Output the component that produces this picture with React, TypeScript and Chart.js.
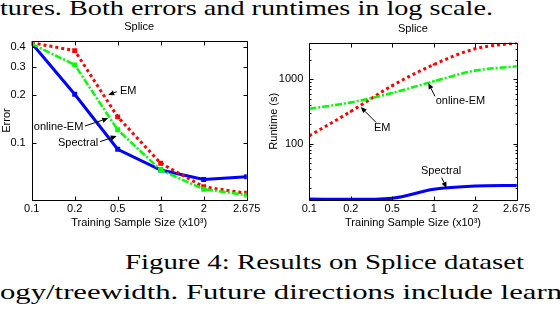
import React, { useEffect, useLayoutEffect, useRef } from "react";
import { Chart, registerables } from "chart.js";
Chart.register(...registerables);

// ---------- data ----------
const categories = ["0.1", "0.2", "0.5", "1", "2", "2.675"];
const errorEM = [0.427, 0.381, 0.146, 0.0745, 0.053, 0.0483];
const errorOnlineEM = [0.42, 0.31, 0.121, 0.0676, 0.0512, 0.047];
const errorSpectral = [0.424, 0.2024, 0.0913, 0.0676, 0.059, 0.0614];
const runtimeEM = [132, 316, 797, 1697, 2985, 3705];
const runtimeOnlineEM = [348, 437, 613, 931, 1367, 1597];
const runtimeSpectral = [13.7, 13.5, 14.1, 19.4, 21.8, 22.3];
const errorTicks = [0.1, 0.2, 0.3, 0.4];
const runtimeTicks = [100, 1000];
const runtimeMinorTicks = [20, 30, 40, 50, 60, 70, 80, 90, 200, 300, 400, 500, 600, 700, 800, 900, 2000, 3000];

type Note = { text: string; head: [number, number]; tail: [number, number]; pos: [number, number]; align: CanvasTextAlign };
const errorNotes: Note[] = [
  { text: "EM", head: [1.78, 0.2004], tail: [1.977, 0.21], pos: [2.053, 0.2125], align: "left" },
  { text: "online-EM", head: [1.78, 0.143], tail: [1.24, 0.128], pos: [1.2, 0.1267], align: "right" },
  { text: "Spectral", head: [1.977, 0.1106], tail: [1.588, 0.1019], pos: [1.549, 0.1004], align: "right" },
];
const runtimeNotes: Note[] = [
  { text: "online-EM", head: [2.87, 878], tail: [3.03, 542], pos: [3.046, 453], align: "left" },
  { text: "EM", head: [1.24, 370], tail: [1.61, 213], pos: [1.757, 174], align: "center" },
  { text: "Spectral", head: [3.31, 20.2], tail: [3.19, 29.4], pos: [3.178, 37.6], align: "center" },
];

const SANS = '"Liberation Sans", Arial, sans-serif';
const RED = "rgb(255,0,0)";
const GREEN = "rgb(0,255,0)";
const BLUE = "rgb(0,0,255)";

function framePlugin(title: string, notes: Note[], minor: number[]) {
  return {
    id: "frame",
    afterDraw(chart: any) {
      const { ctx, chartArea: a, scales } = chart;
      const xs = scales.x;
      const ys = scales.y;
      const L = Math.round(a.left) + 0.5;
      const R = Math.round(a.right) + 0.5;
      const T = Math.round(a.top) + 0.5;
      const B = Math.round(a.bottom) + 0.5;
      ctx.save();
      ctx.strokeStyle = "#000";
      ctx.lineWidth = 1;
      ctx.beginPath();
      ctx.rect(L, T, R - L, B - T);
      const seg = (x1: number, y1: number, x2: number, y2: number) => {
        ctx.moveTo(x1, y1);
        ctx.lineTo(x2, y2);
      };
      for (const t of xs.ticks) {
        const px = Math.round(xs.getPixelForValue(t.value)) + 0.5;
        seg(px, B, px, B - 4);
        seg(px, T, px, T + 4);
      }
      for (const t of ys.ticks) {
        const py = Math.round(ys.getPixelForValue(t.value)) + 0.5;
        seg(L, py, L + 4, py);
        seg(R, py, R - 4, py);
      }
      for (const v of minor) {
        const py = Math.round(ys.getPixelForValue(v)) + 0.5;
        if (py < T || py > B) continue;
        seg(L, py, L + 2, py);
        seg(R, py, R - 2, py);
      }
      ctx.stroke();

      ctx.fillStyle = "#000";
      ctx.font = `11px ${SANS}`;
      ctx.textAlign = "center";
      ctx.textBaseline = "alphabetic";
      ctx.fillText(title, (a.left + a.right) / 2, a.top - 11);

      for (const n of notes) {
        const hx = xs.getPixelForValue(n.head[0]);
        const hy = ys.getPixelForValue(n.head[1]);
        const tx = xs.getPixelForValue(n.tail[0]);
        const ty = ys.getPixelForValue(n.tail[1]);
        const ang = Math.atan2(hy - ty, hx - tx);
        const len = 6;
        const hw = 2.6;
        const bx = hx - len * Math.cos(ang);
        const by = hy - len * Math.sin(ang);
        ctx.beginPath();
        ctx.moveTo(tx, ty);
        ctx.lineTo(bx, by);
        ctx.stroke();
        ctx.beginPath();
        ctx.moveTo(hx, hy);
        ctx.lineTo(bx + hw * Math.sin(ang), by - hw * Math.cos(ang));
        ctx.lineTo(bx - hw * Math.sin(ang), by + hw * Math.cos(ang));
        ctx.closePath();
        ctx.fill();
        ctx.textAlign = n.align;
        ctx.textBaseline = "middle";
        ctx.fillText(n.text, xs.getPixelForValue(n.pos[0]), ys.getPixelForValue(n.pos[1]));
      }
      ctx.restore();
    },
  };
}

function makeConfig(opts: {
  em: number[]; online: number[]; spectral: number[];
  yMin: number; yMax: number; yTicks: number[]; yTitle: string;
  yWidth: number; yTitlePad: number; padTop: number; padRight: number;
  markers: boolean; smooth: boolean; title: string; notes: Note[]; minor: number[];
}) {
  const pts = (arr: number[]) => arr.map((v, i) => ({ x: i, y: v }));
  const ds = (label: string, data: number[], color: string, width: number, dash: number[]) => ({
    label,
    data: pts(data),
    borderColor: color,
    backgroundColor: color,
    borderWidth: width,
    borderDash: dash,
    borderCapStyle: "butt",
    pointStyle: "rect",
    pointRadius: opts.markers ? 3.5 : 1.5,
    pointBorderWidth: 0,
    pointBackgroundColor: color,
    fill: false,
    cubicInterpolationMode: opts.smooth ? "monotone" : "default",
    tension: 0,
  });
  return {
    type: "line",
    data: {
      datasets: [
        ds("online-EM", opts.online, GREEN, 2.5, [7, 2, 2, 2]),
        ds("EM", opts.em, RED, 3, [3, 3]),
        ds("Spectral", opts.spectral, BLUE, 3, []),
      ],
    },
    options: {
      responsive: false,
      animation: false,
      events: [],
      layout: { padding: { left: 0, top: opts.padTop, right: opts.padRight, bottom: 0 } },
      plugins: { legend: { display: false }, tooltip: { enabled: false }, title: { display: false } },
      scales: {
        x: {
          type: "linear",
          min: 0,
          max: 5,
          grid: { display: false, drawTicks: false },
          border: { display: false },
          afterBuildTicks: (s: any) => {
            s.ticks = categories.map((_, i) => ({ value: i }));
          },
          afterFit: (s: any) => {
            s.height = 40;
          },
          ticks: {
            autoSkip: false,
            maxRotation: 0,
            padding: 2,
            color: "#000",
            font: { family: SANS, size: 11 },
            callback: (v: number) => categories[Math.round(v)] ?? "",
          },
          title: {
            display: true,
            text: "Training Sample Size (x10\u00B3)",
            color: "#000",
            font: { family: SANS, size: 11 },
            padding: { top: 0, bottom: 10.5 },
          },
        },
        y: {
          type: "logarithmic",
          min: opts.yMin,
          max: opts.yMax,
          grid: { display: false, drawTicks: false },
          border: { display: false },
          afterBuildTicks: (s: any) => {
            s.ticks = opts.yTicks.map((v) => ({ value: v }));
          },
          afterFit: (s: any) => {
            s.width = opts.yWidth;
          },
          ticks: {
            autoSkip: false,
            padding: 6,
            color: "#000",
            font: { family: SANS, size: 11 },
            callback: (v: number) => String(v),
          },
          title: {
            display: true,
            text: opts.yTitle,
            color: "#000",
            font: { family: SANS, size: 11 },
            padding: { top: opts.yTitlePad, bottom: 0 },
          },
        },
      },
    },
    plugins: [framePlugin(opts.title, opts.notes, opts.minor)],
  } as any;
}

function ChartCanvas({ left, width, config }: { left: number; width: number; config: any }) {
  const ref = useRef<HTMLCanvasElement>(null);
  useEffect(() => {
    const chart = new Chart(ref.current as HTMLCanvasElement, config);
    return () => chart.destroy();
  }, []);
  return (
    <canvas
      ref={ref}
      width={width}
      height={240}
      style={{ position: "absolute", left, top: 0, width, height: 240 }}
    />
  );
}

function FitText({ text, left, top, width }: { text: string; left: number; top: number; width: number }) {
  const ref = useRef<HTMLDivElement>(null);
  useLayoutEffect(() => {
    const el = ref.current as HTMLDivElement;
    const fit = () => {
      el.style.transform = "none";
      const w = el.getBoundingClientRect().width;
      if (w > 0) el.style.transform = `scaleX(${width / w})`;
    };
    fit();
    const f = (document as any).fonts;
    if (f && f.ready) f.ready.then(fit);
  }, [text, width]);
  return (
    <div
      ref={ref}
      style={{
        position: "absolute",
        left,
        top,
        fontFamily: '"Liberation Serif", serif',
        fontSize: 22,
        lineHeight: "22px",
        whiteSpace: "nowrap",
        transformOrigin: "0 0",
        color: "#000",
      }}
    >
      {text}
    </div>
  );
}

export default function App() {
  const leftCfg = makeConfig({
    em: errorEM, online: errorOnlineEM, spectral: errorSpectral,
    yMin: 0.0438, yMax: 0.438, yTicks: errorTicks, yTitle: "Error",
    yWidth: 31.7, yTitlePad: 0.5, padTop: 41, padRight: 264 - 246.7,
    markers: true, smooth: false, title: "Splice", notes: errorNotes, minor: [],
  });
  const rightCfg = makeConfig({
    em: runtimeEM, online: runtimeOnlineEM, spectral: runtimeSpectral,
    yMin: 13.2, yMax: 3743, yTicks: runtimeTicks, yTitle: "Runtime (s)",
    yWidth: 47.3, yTitlePad: 5.7, padTop: 42.5, padRight: 560 - 516.7 - 0,
    markers: false, smooth: true, title: "Splice", notes: runtimeNotes, minor: runtimeMinorTicks,
  });
  return (
    <div
      style={{
        position: "absolute",
        left: 0,
        top: 0,
        width: 560,
        height: 316,
        background: "#fff",
        overflow: "hidden",
      }}
    >
      <FitText text="tures. Both errors and runtimes in log scale." left={0} top={-3.4} width={493} />
      <ChartCanvas left={0} width={264} config={leftCfg} />
      <ChartCanvas left={262} width={298} config={rightCfg} />
      <FitText text="Figure 4: Results on Splice dataset" left={125} top={251.1} width={399} />
      <FitText text="ogy/treewidth. Future directions include learn" left={0} top={280.6} width={562} />
    </div>
  );
}
